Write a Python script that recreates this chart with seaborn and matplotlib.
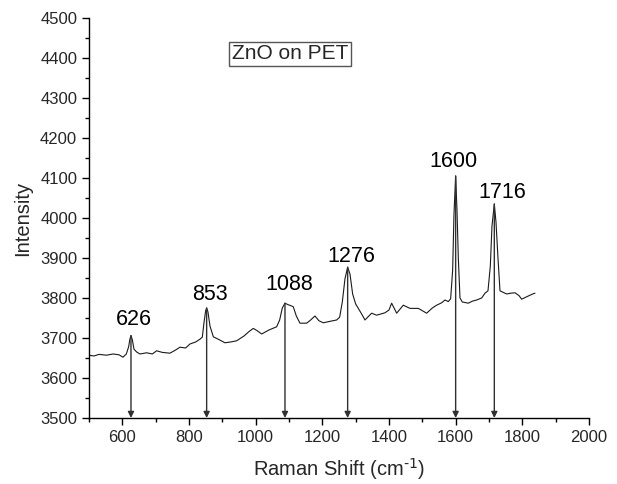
import numpy as np
import pandas as pd
import matplotlib
matplotlib.use("Agg")
import matplotlib.pyplot as plt
from matplotlib.ticker import MultipleLocator
import seaborn as sns

# Spectrum
raman_shift = [500, 515, 530, 553, 572, 590, 602, 612, 619, 623, 626, 630, 635, 643, 653,
               673, 690, 703, 720, 743, 760, 773, 790, 803, 820, 833, 840, 845, 850, 853,
               857, 863, 873, 890, 908, 925, 943, 965, 980, 993, 1005, 1018, 1040, 1063,
               1072, 1080, 1088, 1098, 1105, 1113, 1122, 1133, 1153, 1165, 1178, 1190,
               1203, 1225, 1243, 1252, 1260, 1268, 1276, 1283, 1291, 1300, 1308, 1318,
               1328, 1348, 1363, 1388, 1400, 1408, 1423, 1443, 1463, 1488, 1513, 1530,
               1543, 1558, 1568, 1578, 1585, 1591, 1595, 1600, 1604, 1608, 1613, 1620,
               1638, 1650, 1663, 1678, 1688, 1697, 1704, 1709, 1716, 1721, 1727, 1733,
               1753, 1765, 1778, 1790, 1798, 1813, 1831, 1838]
intensity = [3657, 3655, 3659, 3657, 3660, 3658, 3652, 3660, 3678, 3698, 3706, 3696, 3672, 3665, 3660,
             3663, 3660, 3668, 3664, 3662, 3670, 3677, 3675, 3685, 3690, 3697, 3702, 3738, 3768, 3775,
             3765, 3730, 3703, 3696, 3688, 3690, 3693, 3705, 3716, 3724, 3718, 3710, 3720, 3728,
             3745, 3775, 3787, 3783, 3781, 3778, 3755, 3737, 3737, 3745, 3755, 3743,
             3738, 3742, 3745, 3752, 3790, 3848, 3877, 3860, 3810, 3785, 3774, 3760,
             3745, 3762, 3757, 3763, 3770, 3787, 3762, 3782, 3774, 3774, 3762, 3775,
             3782, 3788, 3795, 3791, 3798, 3870, 4010, 4105, 4020, 3900, 3800, 3790,
             3787, 3792, 3795, 3800, 3812, 3818, 3880, 3980, 4035, 3990, 3900, 3818,
             3810, 3812, 3813, 3806, 3797, 3803, 3810, 3812]

# Peak annotations
peak_shift = [626, 853, 1088, 1276, 1600, 1716]
peak_top = [3706, 3775, 3787, 3877, 4105, 4035]
peak_labels = ["626", "853", "1088", "1276", "1600", "1716"]
label_x = [636, 863, 1100, 1287, 1594, 1740]
label_y = [3720, 3782, 3807, 3878, 4116, 4037]

df = pd.DataFrame({"shift": raman_shift, "intensity": intensity})

sns.set_style("ticks")
plt.rcParams["font.family"] = ["Liberation Sans", "DejaVu Sans"]
plt.rcParams["axes.unicode_minus"] = False

fig = plt.figure(figsize=(6.17, 4.84), dpi=100)
ax = fig.add_axes([0.1442, 0.1364, 0.8104, 0.8264])

sns.lineplot(data=df, x="shift", y="intensity", ax=ax, color="#1a1a1a", linewidth=0.8)

for px, py in zip(peak_shift, peak_top):
    ax.annotate("", xy=(px, 3500), xytext=(px, py),
                arrowprops=dict(arrowstyle="-|>", color="#303030", lw=1.0,
                                mutation_scale=9, shrinkA=0, shrinkB=0))
for lx, ly, lab in zip(label_x, label_y, peak_labels):
    ax.text(lx, ly, lab, ha="center", va="bottom", fontsize=15.5, color="black")

ax.text(0.402, 0.911, "ZnO on PET", transform=ax.transAxes, ha="center", va="center",
        fontsize=15,
        bbox=dict(boxstyle="square,pad=0.12", facecolor="white", edgecolor="#555555", lw=1))

ax.set_xlim(500, 2000)
ax.set_ylim(3500, 4500)
ax.xaxis.set_major_locator(MultipleLocator(200))
ax.xaxis.set_minor_locator(MultipleLocator(100))
ax.yaxis.set_major_locator(MultipleLocator(100))
ax.yaxis.set_minor_locator(MultipleLocator(50))
ax.tick_params(which="major", direction="out", length=5, width=1, labelsize=12, color="black")
ax.tick_params(which="minor", direction="out", length=3, width=1, color="black")
for s in ["top", "right"]:
    ax.spines[s].set_visible(False)
for s in ["left", "bottom"]:
    ax.spines[s].set_color("black")
    ax.spines[s].set_linewidth(1)

ax.set_xlabel(r"Raman Shift (cm$^{\text{-1}}$)", fontsize=14.5, labelpad=8)
ax.set_ylabel("Intensity", fontsize=14.5, labelpad=6)

fig.savefig("out.png", dpi=100)
